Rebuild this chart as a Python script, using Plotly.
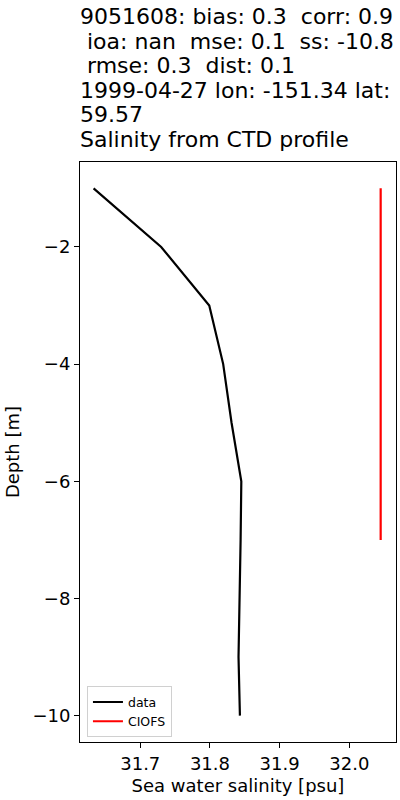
import plotly.graph_objects as go

# CTD profile (data) and model (CIOFS)
depth_data = [-1, -2, -3, -4, -5, -6, -7, -8, -9, -10]
sal_data = [31.633, 31.730, 31.799, 31.819, 31.831, 31.845, 31.844, 31.842, 31.841, 31.843]

depth_model = [-1, -2, -3, -4, -5, -6, -7]
sal_model = [32.045, 32.045, 32.045, 32.045, 32.045, 32.045, 32.045]

title_lines = [
    "9051608: bias: 0.3\u00a0\u00a0corr: 0.9",
    "\u00a0ioa: nan\u00a0\u00a0mse: 0.1\u00a0\u00a0ss: -10.8",
    "\u00a0rmse: 0.3\u00a0\u00a0dist: 0.1",
    "1999-04-27 lon: -151.34 lat:",
    "59.57",
    "Salinity from CTD profile",
]

font = "DejaVu Sans"

fig = go.Figure()
fig.add_trace(go.Scatter(x=sal_data, y=depth_data, mode="lines", name="data",
                         line=dict(color="black", width=2.2)))
fig.add_trace(go.Scatter(x=sal_model, y=depth_model, mode="lines", name="CIOFS",
                         line=dict(color="red", width=2.2)))

# multi-line title, one annotation per line (matplotlib-like spacing)
n = len(title_lines)
for i, line in enumerate(title_lines):
    fig.add_annotation(text=line, x=0, y=1, xref="paper", yref="paper",
                       xanchor="left", yanchor="bottom", showarrow=False,
                       xshift=-2, yshift=8 + (n - 1 - i) * 24.6,
                       font=dict(family=font, size=22, color="black"))

axis_style = dict(showgrid=False, zeroline=False, showline=True, mirror=True,
                  linecolor="black", linewidth=1, ticks="outside", ticklen=5,
                  tickcolor="black", automargin=False,
                  tickfont=dict(family=font, size=18, color="black"))

fig.update_xaxes(range=[31.6135, 32.067], dtick=0.1, tickformat=".1f",
                 title=dict(text="Sea water salinity [psu]", standoff=6,
                            font=dict(family=font, size=18, color="black")),
                 **axis_style)
fig.update_yaxes(range=[-10.45, -0.55], dtick=2,
                 title=dict(text="Depth [m]", standoff=8,
                            font=dict(family=font, size=18, color="black")),
                 **axis_style)

fig.update_layout(
    width=400, height=800,
    margin=dict(l=80, r=4, t=162, b=58),
    plot_bgcolor="white", paper_bgcolor="white",
    font=dict(family=font, color="black"),
    legend=dict(x=0.022, y=0.008, xanchor="left", yanchor="bottom",
                bgcolor="white", bordercolor="#d0d0d0", borderwidth=1,
                font=dict(family=font, size=12.5, color="black")),
)

# drop the default page margin so the figure sits at the window's corner
fig.write_html("out.html", config={"displayModeBar": False},
               post_script="document.body.style.margin='0';")
